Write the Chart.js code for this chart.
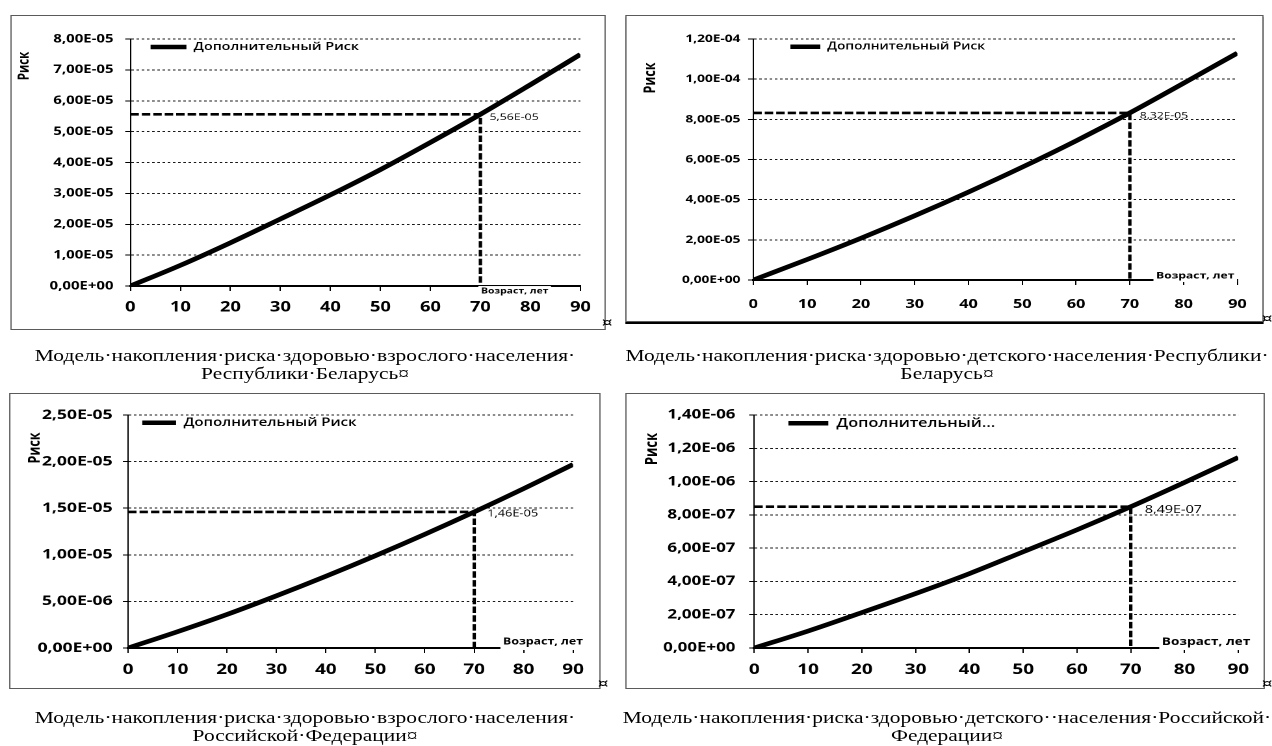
<!DOCTYPE html>
<html lang="ru">
<head>
<meta charset="utf-8">
<title>Модель накопления риска здоровью</title>
<script src="https://cdn.jsdelivr.net/npm/chart.js@4.4.1/dist/chart.umd.min.js"></script>
<style>
  html, body { margin: 0; padding: 0; background: #fff; }
  body { width: 1272px; height: 746px; overflow: hidden; position: relative; }
  #sheet { position: absolute; left: 0; top: 0; height: 746px; transform-origin: 0 0; }
  .panel { position: absolute; box-sizing: border-box; border: 1px solid #5a5a5a; background: #fff; }
  .panel canvas { position: absolute; left: 0; top: 0; }
  .cap { position: absolute; text-align: center; font-family: 'Liberation Serif', 'Times New Roman', serif;
         font-size: 16.5px; line-height: 18px; color: #000; white-space: nowrap; }
  .cell { position: absolute; font-family: 'DejaVu Sans', sans-serif; font-size: 13px; line-height: 13px; color: #000; }
</style>
</head>
<body>
<div id="sheet"></div>
<script>
// Ages (years) at which the accumulated risk is evaluated
const ages = [0, 10, 20, 30, 40, 50, 60, 70, 80, 90];

// Accumulated additional risk for each population group
const riskAdultBY = [0, 0.67e-5, 1.40e-5, 2.17e-5, 2.95e-5, 3.77e-5, 4.65e-5, 5.56e-5, 6.52e-5, 7.50e-5];
const riskChildBY = [0, 1.02e-5, 2.08e-5, 3.20e-5, 4.38e-5, 5.62e-5, 6.93e-5, 8.32e-5, 9.80e-5, 11.30e-5];
const riskAdultRF = [0, 1.75e-6, 3.60e-6, 5.60e-6, 7.70e-6, 9.90e-6, 12.20e-6, 14.60e-6, 17.10e-6, 19.70e-6];
const riskChildRF = [0, 1.02e-7, 2.13e-7, 3.27e-7, 4.47e-7, 5.78e-7, 7.10e-7, 8.49e-7, 9.95e-7, 11.45e-7];

// Age highlighted by the dashed guide lines
const markAge = 70;

// Y axis upper bounds and steps, one per panel
const yMaxValues = [8e-5, 1.2e-4, 2.5e-5, 1.4e-6];
const yStepValues = [1e-5, 2e-5, 5e-6, 2e-7];

// X axis range and step (years)
const xMin = 0, xMax = 90, xStep = 10;

const seriesLabel = 'Дополнительный Риск';
const legendTexts = ['Дополнительный Риск', 'Дополнительный Риск', 'Дополнительный Риск', 'Дополнительный...'];
const yTitle = 'Риск';
const xTitle = 'Возраст, лет';

const captions = [
  ['Модель·накопления·риска·здоровью·взрослого·населения·', 'Республики·Беларусь¤'],
  ['Модель·накопления·риска·здоровью·детского·населения·Республики·', 'Беларусь¤'],
  ['Модель·накопления·риска·здоровью·взрослого·населения·', 'Российской·Федерации¤'],
  ['Модель·накопления·риска·здоровью·детского··населения·Российской·', 'Федерации¤']
];

const seriesList = [riskAdultBY, riskChildBY, riskAdultRF, riskChildRF];

// ---- page geometry (page pixels; the sheet is widened horizontally) ----
const STRETCH = 1.3;
const sx = v => v / STRETCH;
const FONT = "'Open Sans', 'Noto Sans', 'DejaVu Sans', sans-serif";

const panelLayouts = [
  { box: [10, 15, 605, 330],   area: [130, 39, 580, 286] },
  { box: [625, 15, 1263, 322], area: [753, 39, 1238, 280], heavyBottom: true },
  { box: [9, 393, 600, 689],   area: [128, 415, 573, 648] },
  { box: [625, 393, 1265, 689], area: [754, 415, 1238, 648] }
];

const panelStyles = [
  { yTick: 11.5, xTick: 14,   yPad: 9,  xPad: 8,  legend: 11,   legendLine: 36, legendDx: 20, legendDy: 2.5,
    yTitleSize: 11.5, yTitleDx: 106, yTitleDy: 27, xTitleSize: 8,   xTitleEnd: -32, xTitleDy: 5,
    markSize: 9.5, markDx: 9,  markDy: 3 },
  { yTick: 10.5, xTick: 12.5, yPad: 6,  xPad: 12, legend: 10.5, legendLine: 30, legendDx: 37, legendDy: 2.5,
    yTitleSize: 12.5, yTitleDx: 103, yTitleDy: 39, xTitleSize: 9.3, xTitleEnd: -3,  xTitleDy: -4,
    markSize: 9.3, markDx: 10, markDy: 3 },
  { yTick: 13.5, xTick: 14.5, yPad: 8,  xPad: 8,  legend: 11.5, legendLine: 34, legendDx: 14, legendDy: 2,
    yTitleSize: 12.5, yTitleDx: 93,  yTitleDy: 33, xTitleSize: 9.5, xTitleEnd: 10,  xTitleDy: -6,
    markSize: 9.8, markDx: 13, markDy: 2 },
  { yTick: 13,   xTick: 14.5, yPad: 10.5, xPad: 8, legend: 12.5, legendLine: 40, legendDx: 34, legendDy: 2,
    yTitleSize: 13,   yTitleDx: 102, yTitleDy: 34, xTitleSize: 10.5, xTitleEnd: 12, xTitleDy: -6,
    markSize: 11,  markDx: 14, markDy: 3 }
];

const captionPlaces = [[305, 347], [947, 347], [305, 709], [947, 709]];
const cellMarks = [[607, 322], [1267, 318], [603, 683], [1267, 683]];

// Scientific notation with a decimal comma: 8,00E-05
function sci(v) {
  const parts = Number(v).toExponential(2).split('e');
  const n = parseInt(parts[1], 10);
  return parts[0].replace('.', ',') + 'E' + (n < 0 ? '-' : '+') + String(Math.abs(n)).padStart(2, '0');
}

// Puts the in-plot legend at the top-left corner of the chart area
const legendPlace = {
  id: 'legendPlace',
  afterLayout(chart, args, o) {
    const lg = chart.legend;
    if (!lg) return;
    const ca = chart.chartArea;
    const w = lg.width, h = lg.height;
    lg.left = ca.left + o.dx;
    lg.top = ca.top + o.dy;
    lg.right = lg.left + w;
    lg.bottom = lg.top + h;
  }
};

// Axis titles and the value label at the highlighted age
const notes = {
  id: 'notes',
  afterDraw(chart, args, o) {
    const { ctx, chartArea: ca, scales: { x, y } } = chart;
    ctx.save();
    ctx.fillStyle = '#000';
    ctx.textBaseline = 'middle';

    const px = x.getPixelForValue(o.age);
    const py = y.getPixelForValue(o.value);
    ctx.font = `${o.markSize}px ${FONT}`;
    ctx.textAlign = 'left';
    ctx.fillText(sci(o.value), px + o.markDx, py + o.markDy);

    ctx.font = `bold ${o.xTitleSize}px ${FONT}`;
    const tw = ctx.measureText(o.xText).width;
    const tx = x.getPixelForValue(xMax) + o.xTitleEnd - tw;
    const ty = ca.bottom + o.xTitleDy;
    const top = ty - o.xTitleSize * 0.62;
    const bottom = Math.max(ty + o.xTitleSize * 0.62, ca.bottom + 2);
    ctx.fillStyle = '#fff';
    ctx.fillRect(tx - 2, top, tw + 4, bottom - top);
    ctx.fillStyle = '#000';
    ctx.fillText(o.xText, tx, ty);

    ctx.translate(ca.left - o.yTitleDx, ca.top + o.yTitleDy);
    ctx.rotate(-Math.PI / 2);
    ctx.font = `bold ${o.yTitleSize}px ${FONT}`;
    ctx.textAlign = 'center';
    ctx.fillText(o.yText, 0, 0);
    ctx.restore();
  }
};

const sheet = document.getElementById('sheet');
sheet.style.width = sx(1272) + 'px';
sheet.style.transform = `scaleX(${STRETCH})`;

panelLayouts.forEach((pl, i) => {
  const st = panelStyles[i];
  const [bx0, by0, bx1, by1] = pl.box;
  const left = sx(bx0), top = by0;
  const w = Math.round(sx(bx1 - bx0)), h = by1 - by0;

  const div = document.createElement('div');
  div.className = 'panel';
  Object.assign(div.style, { left: left + 'px', top: top + 'px', width: w + 'px', height: h + 'px' });
  if (pl.heavyBottom) div.style.boxShadow = '0 2px 0 0 #000';
  const cv = document.createElement('canvas');
  const cw = w - 2, ch = h - 2;
  cv.width = cw; cv.height = ch;
  cv.style.width = cw + 'px'; cv.style.height = ch + 'px';
  div.appendChild(cv);
  sheet.appendChild(div);

  const ox = left + 1, oy = top + 1;
  const [al, at, ar, ab] = pl.area;
  const aL = sx(al) - ox, aR = sx(ar) - ox, aT = at - oy, aB = ab - oy;

  const values = seriesList[i];
  const markValue = values[ages.indexOf(markAge)];
  const points = ages.map((a, k) => ({ x: a, y: values[k] }));

  new Chart(cv, {
    type: 'line',
    data: {
      datasets: [
        {
          label: seriesLabel, data: points, order: 0,
          borderColor: '#000', borderWidth: 4.5, fill: false,
          cubicInterpolationMode: 'monotone',
          pointRadius: 0, pointHoverRadius: 0, pointBorderWidth: 4.5, pointBorderColor: '#000', pointBackgroundColor: '#000'
        },
        {
          label: 'guide', order: 1,
          data: [{ x: xMin, y: markValue }, { x: markAge, y: markValue }, { x: markAge, y: 0 }],
          borderColor: '#000', borderWidth: 2.6, borderDash: [6.5, 2.3], fill: false, tension: 0,
          pointRadius: 0, pointHoverRadius: 0
        }
      ]
    },
    options: {
      responsive: false, animation: false, devicePixelRatio: 2,
      events: [],
      layout: { padding: { left: 0, top: aT, right: cw - aR, bottom: 0 } },
      scales: {
        x: {
          type: 'linear', min: xMin, max: xMax,
          ticks: { stepSize: xStep, color: '#000', padding: st.xPad, maxRotation: 0, autoSkip: false,
                   font: { family: FONT, size: st.xTick, weight: 'bold' } },
          grid: { drawOnChartArea: false, drawTicks: true, tickLength: 5, tickColor: '#000', tickWidth: 1 },
          border: { color: '#000', width: 2 },
          afterFit: s => { s.height = ch - aB; }
        },
        y: {
          type: 'linear', min: 0, max: yMaxValues[i],
          ticks: { stepSize: yStepValues[i], color: '#000', padding: st.yPad, callback: v => sci(v),
                   font: { family: FONT, size: st.yTick, weight: 'bold' } },
          grid: { color: '#1a1a1a', lineWidth: 1, tickLength: 4, tickColor: '#000', tickBorderDash: [] },
          border: { color: '#000', width: 1, dash: [2, 2] },
          afterFit: s => { s.width = aL; }
        }
      },
      plugins: {
        tooltip: { enabled: false },
        legend: {
          position: 'chartArea', align: 'start',
          labels: {
            usePointStyle: true, pointStyle: 'line', pointStyleWidth: sx(st.legendLine),
            boxHeight: st.legend, padding: 0, color: '#000',
            font: { family: FONT, size: st.legend, weight: '600' },
            filter: item => item.datasetIndex === 0,
            generateLabels: chart => Chart.defaults.plugins.legend.labels.generateLabels(chart)
              .map(it => Object.assign(it, { text: it.datasetIndex === 0 ? legendTexts[i] : it.text }))
          }
        },
        legendPlace: { dx: sx(st.legendDx), dy: st.legendDy },
        notes: {
          age: markAge, value: markValue,
          markSize: st.markSize, markDx: sx(st.markDx), markDy: st.markDy,
          xText: xTitle, xTitleSize: st.xTitleSize, xTitleEnd: sx(st.xTitleEnd), xTitleDy: st.xTitleDy,
          yText: yTitle, yTitleSize: st.yTitleSize, yTitleDx: sx(st.yTitleDx), yTitleDy: st.yTitleDy
        }
      }
    },
    plugins: [legendPlace, notes]
  });
});

captions.forEach((lines, i) => {
  const [cx, cy] = captionPlaces[i];
  const d = document.createElement('div');
  d.className = 'cap';
  d.style.left = (sx(cx) - 300) + 'px';
  d.style.width = '600px';
  d.style.top = cy + 'px';
  lines.forEach((t, k) => {
    if (k) d.appendChild(document.createElement('br'));
    d.appendChild(document.createTextNode(t));
  });
  sheet.appendChild(d);
});

cellMarks.forEach(([cx, cy]) => {
  const s = document.createElement('span');
  s.className = 'cell';
  s.textContent = '¤';
  s.style.left = (sx(cx) - 4) + 'px';
  s.style.top = (cy - 7) + 'px';
  sheet.appendChild(s);
});
</script>
</body>
</html>
